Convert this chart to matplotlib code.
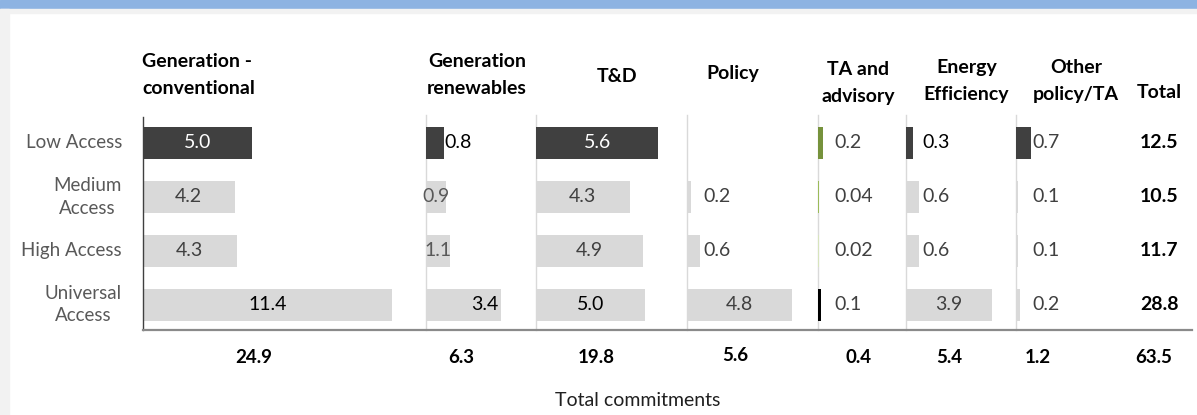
"""Energy access commitments by category: small-multiple bar table with row and
column totals, saved to out.png."""

import matplotlib

matplotlib.use("Agg")
import matplotlib.pyplot as plt
from matplotlib.patches import Rectangle
from matplotlib.transforms import blended_transform_factory

plt.rcParams["font.family"] = ["Lato", "DejaVu Sans"]

# ---- data ---------------------------------------------------------------
access_levels = ["Low Access", "Medium\nAccess", "High Access", "Universal\nAccess"]
categories = [
    "Generation -\nconventional",
    "Generation\nrenewables",
    "T&D",
    "Policy",
    "TA and\nadvisory",
    "Energy\nEfficiency",
    "Other\npolicy/TA",
]
gen_conventional = [5.0, 4.2, 4.3, 11.4]
gen_renewables = [0.8, 0.9, 1.1, 3.4]
t_and_d = [5.6, 4.3, 4.9, 5.0]
policy = [0.0, 0.2, 0.6, 4.8]
ta_advisory = [0.2, 0.04, 0.02, 0.1]
energy_efficiency = [0.3, 0.6, 0.6, 3.9]
other_policy_ta = [0.7, 0.1, 0.1, 0.2]
row_totals = [12.5, 10.5, 11.7, 28.8]
column_totals = [24.9, 6.3, 19.8, 5.6, 0.4, 5.4, 1.2]
grand_total = 63.5

series = [gen_conventional, gen_renewables, t_and_d, policy,
          ta_advisory, energy_efficiency, other_policy_ta]

# ---- layout (x in value units, one common scale for all panels) ---------
panel_widths = [12.95, 5.0, 6.9, 6.0, 4.0, 5.0]
panel_starts = [0.0]
for w in panel_widths:
    panel_starts.append(panel_starts[-1] + w)
total_col_x = 46.4
x_max = 47.9

# header placement: (x offset inside panel, figure-pixel y, alignment)
header_pos = [(0.0, 75, "left"), (2.32, 75, "center"), (3.72, 76, "center"),
              (2.11, 74, "center"), (1.82, 83, "center"), (2.75, 81, "center"),
              (2.75, 81, "center")]
# bottom totals row: x offset inside panel
total_offsets = [5.1, 1.6, 2.75, 2.2, 1.85, 1.95, 1.0]

# value label placement: c = centre, ie = inside end, oe = outside end
label_modes = [
    ["c", "c", "c", "c"],
    ["oe", "c", "c", "ie"],
    ["c", "c", "c", "c"],
    [None, "oe", "oe", "c"],
    ["oe", "oe", "oe", "oe"],
    ["oe", "oe", "oe", "c"],
    ["oe", "oe", "oe", "oe"],
]
DARK = "#404040"
LIGHT = "#d9d9d9"
TXT = "#404040"
label_colors = [
    ["white", TXT, TXT, "black"],
    ["black", "#595959", "#595959", "black"],
    ["white", TXT, TXT, "black"],
    [TXT, TXT, TXT, TXT],
    [TXT, TXT, TXT, TXT],
    ["black", TXT, TXT, TXT],
    [TXT, TXT, TXT, TXT],
]
ta_colors = ["#76923c", "#9bbb59", "#d7e4bd", "black"]

VAL_FS = 14
ROW_FS = 13.5
BOLD_FS = 14

W, H = 1197, 415
fig = plt.figure(figsize=(W / 100, H / 100), dpi=100)
fig.patch.set_facecolor("white")

# page frame: blue header strip and light grey margins
fig.patches.append(Rectangle((0, 1 - 9 / H), 1, 9 / H, transform=fig.transFigure,
                             color="#8db3e2", zorder=0))
fig.patches.append(Rectangle((0, 1 - 13 / H), 1, 4 / H, transform=fig.transFigure,
                             color="#f2f2f2", zorder=0))
fig.patches.append(Rectangle((0, 0), 9 / W, 1 - 9 / H, transform=fig.transFigure,
                             color="#f2f2f2", zorder=0))

ax = fig.add_axes([142.5 / W, 85 / H, 1049.5 / W, 213 / H])
ax.set_xlim(0, x_max)
ax.set_ylim(3.47, -0.48)
ax.set_xticks([])
ax.set_yticks([])
for side in ("top", "right"):
    ax.spines[side].set_visible(False)
ax.spines["left"].set_color("#404040")
ax.spines["left"].set_linewidth(1.0)
ax.spines["bottom"].set_color("#8a8a8a")
ax.spines["bottom"].set_linewidth(1.6)

rows = range(len(access_levels))
bar_h = 0.59

for k, (start, vals) in enumerate(zip(panel_starts, series)):
    if k > 0:
        ax.axvline(start, ymin=0, ymax=1.01, color=LIGHT, lw=1, zorder=1,
                   clip_on=False)
    if k == 4:
        colors = ta_colors
    else:
        colors = [DARK] + [LIGHT] * 3
    ax.barh(list(rows), vals, left=start, height=bar_h, color=colors,
            edgecolor="none", zorder=2)
    for i, v in enumerate(vals):
        mode = label_modes[k][i]
        if mode is None:
            continue
        if mode == "c":
            x, ha = start + v / 2, "center"
        elif mode == "ie":
            x, ha = start + v - 0.1, "right"
        else:
            x, ha = start + max(v + 0.05, 0.75), "left"
        ax.text(x, i, f"{v:g}" if v < 0.1 else f"{v:.1f}", ha=ha, va="center",
                fontsize=VAL_FS, color=label_colors[k][i], zorder=3)

# row labels
for i, name in enumerate(access_levels):
    ax.text(-0.94, i, name, ha="right", va="center", multialignment="center",
            fontsize=ROW_FS, color="#595959", linespacing=1.4)

# row totals
for i, t in enumerate(row_totals):
    ax.text(total_col_x, i, f"{t:.1f}", ha="center", va="center",
            fontsize=BOLD_FS, fontweight="bold", color="black")

# column headers and column totals
hdr = blended_transform_factory(ax.transData, fig.transFigure)
for k, name in enumerate(categories):
    dx, ypx, ha = header_pos[k]
    ax.text(panel_starts[k] + dx, 1 - ypx / H, name, transform=hdr, ha=ha,
            va="center", fontsize=BOLD_FS, fontweight="bold", linespacing=1.75)
    ypx_tot = 355 if k == 3 else 357
    ax.text(panel_starts[k] + total_offsets[k], 1 - ypx_tot / H,
            f"{column_totals[k]:.1f}", transform=hdr, ha="center", va="center",
            fontsize=BOLD_FS - 0.5, fontweight="bold")
ax.text(total_col_x, 1 - 93 / H, "Total", transform=hdr, ha="center",
        va="center", fontsize=BOLD_FS, fontweight="bold")
ax.text(total_col_x - 0.25, 1 - 357 / H, f"{grand_total:.1f}", transform=hdr,
        ha="center", va="center", fontsize=BOLD_FS - 0.5, fontweight="bold")

fig.text(638 / W, 1 - 400 / H, "Total commitments", ha="center", va="center",
         fontsize=14, color="#202020")

fig.savefig("out.png", dpi=100)
